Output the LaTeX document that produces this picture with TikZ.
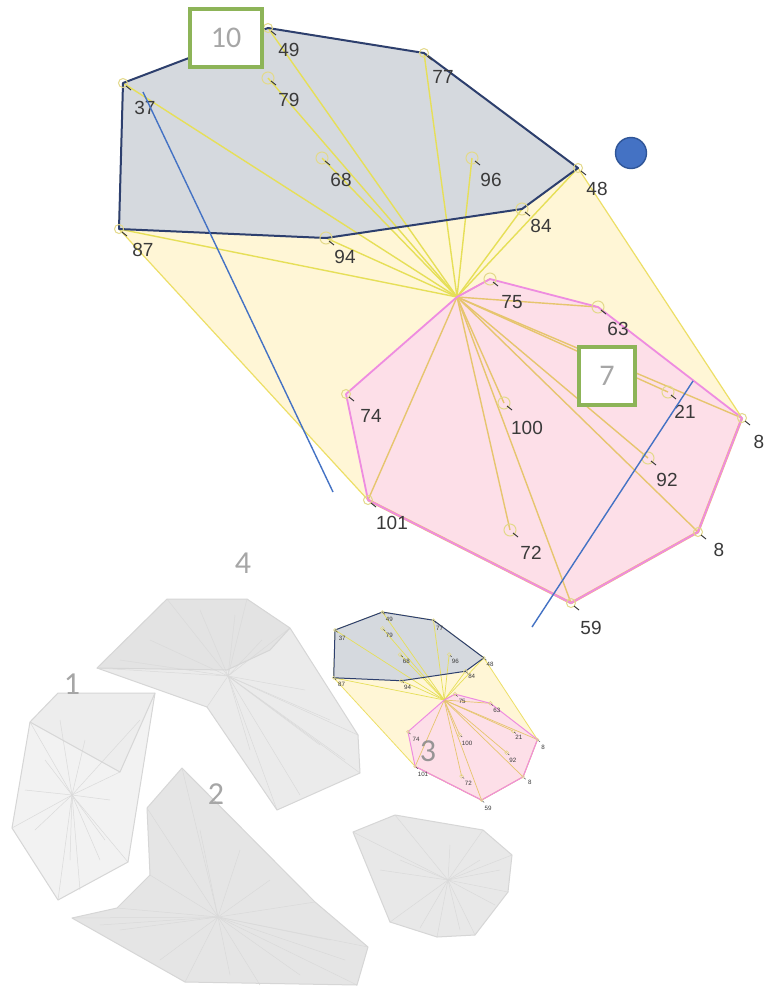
\documentclass[tikz,border=0pt]{standalone}
\usepackage{fontspec}
\setmainfont{Liberation Sans}
\newfontfamily\calfont{Carlito}
\definecolor{yfillc}{HTML}{FFF6D6}
\definecolor{yedgec}{HTML}{EDDF66}
\definecolor{gfillc}{HTML}{D5D9DE}
\definecolor{gedgec}{HTML}{2D3F6E}
\definecolor{pfillc}{HTML}{FDDFE8}
\definecolor{pedgec}{HTML}{EE8CE0}
\definecolor{orc}{HTML}{F2BA7C}
\definecolor{spyc}{HTML}{E6DF58}
\definecolor{sptc}{HTML}{E6C56E}
\definecolor{mkc}{HTML}{E3D98A}
\definecolor{labc}{HTML}{3A3A3A}
\definecolor{greenc}{HTML}{8DB458}
\definecolor{numc}{HTML}{A6A6A6}
\definecolor{bluec}{HTML}{4472C4}
\definecolor{bluedk}{HTML}{2F5597}
\definecolor{fedgec}{HTML}{D6D6D6}
\definecolor{fspc}{HTML}{DADADA}
\newcommand{\drawcluster}{%
\coordinate (H) at (457,297);
\coordinate (p37) at (123,83);
\coordinate (p49) at (268,28);
\coordinate (c79) at (268,78);
\coordinate (c68) at (322,158);
\coordinate (p77) at (424,53);
\coordinate (c96) at (472,158);
\coordinate (p48) at (578,168);
\coordinate (p84) at (522,209);
\coordinate (p94) at (326,238);
\coordinate (p87) at (119,229);
\coordinate (p75) at (490,279);
\coordinate (p63) at (598,307);
\coordinate (c21) at (668,392);
\coordinate (p8r) at (742,418);
\coordinate (c92) at (648,458);
\coordinate (p8) at (698,532);
\coordinate (p59) at (571,603);
\coordinate (c72) at (510,530);
\coordinate (c100) at (504,403);
\coordinate (p101) at (368,500);
\coordinate (p74) at (346,394);
\fill[yfill] (p37)--(p49)--(p77)--(p48)--(p8r)--(p8)--(p59)--(p101)--(p87)--cycle;
\draw[yedge] (p37)--(p49)--(p77)--(p48)--(p8r)--(p8)--(p59)--(p101)--(p87)--cycle;
\fill[gfill] (p37)--(p49)--(p77)--(p48)--(p84)--(p94)--(p87)--cycle;
\fill[pfill] (p74)--(H)--(p75)--(p63)--(p8r)--(p8)--(p59)--(p101)--cycle;
\foreach \t in {p37,p87,p94,c68,c79,p49,p77,c96,p84,p48} \draw[spokeY] (H)--(\t);
\foreach \t in {p75,p63,c21,p8r,c92,p8,p59,c72,c100,p101} \draw[spokeT] (H)--(\t);
\draw[gedge] (p37)--(p49)--(p77)--(p48)--(p84)--(p94)--(p87)--cycle;
\draw[oredge] (p101)--(p59)--(p8)--(p8r);
\draw[pedge] (p74)--(H)--(p75)--(p63)--(p8r)--(p8)--(p59)--(p101)--cycle;
\foreach \t in {c79,c68,c96,p84,p94,c21,c92,c72,c100,p63,p75} \draw[ptmark] (\t) circle (6);
\foreach \t in {p37,p49,p77,p48,p87,p8r,p8,p59,p101,p74} \draw[ptmark] (\t) circle (4.5);
\foreach \t in {p37,p49,c79,c68,p77,c96,p48,p84,p94,p87,p75,p63,c21,p8r,c92,p8,p59,c72,c100,p101,p74}
  \draw[ticks] (\t) ++(3,3) -- ++(5,4);
\node[lab] (l37) at (145,108) {37};
\node[lab] (l49) at (289,50) {49};
\node[lab] (l79) at (289,100) {79};
\node[lab] (l68) at (341,180) {68};
\node[lab] (l77) at (443,77) {77};
\node[lab] (l96) at (491,180) {96};
\node[lab] (l48) at (597,189) {48};
\node[lab] (l84) at (541,226) {84};
\node[lab] (l94) at (345,257) {94};
\node[lab] (l87) at (143,250) {87};
\node[lab] (l75) at (512,302) {75};
\node[lab] (l63) at (618,329) {63};
\node[lab] (l21) at (685,412) {21};
\node[lab] (l8r) at (759,442) {8};
\node[lab] (l92) at (667,480) {92};
\node[lab] (l8) at (719,550) {8};
\node[lab] (l59) at (591,628) {59};
\node[lab] (l72) at (531,553) {72};
\node[lab] (l100) at (527,428) {100};
\node[lab] (l74) at (371,416) {74};
\node[lab] (l101) at (392,523) {101};
}
\begin{document}
\begin{tikzpicture}[x=1pt,y=-1pt,
  yfill/.style={fill=yfillc},
  yedge/.style={draw=yedgec,line width=1.2pt,line join=round},
  gfill/.style={fill=gfillc},
  gedge/.style={draw=gedgec,line width=2pt,line join=round},
  pfill/.style={fill=pfillc},
  pedge/.style={draw=pedgec,line width=1.8pt,line join=round},
  oredge/.style={draw=orc,line width=2.6pt,line join=round},
  spokeY/.style={draw=spyc,line width=1.4pt},
  spokeT/.style={draw=sptc,line width=1.4pt},
  ptmark/.style={draw=mkc,line width=1pt},
  ticks/.style={draw=labc,line width=1pt},
  lab/.style={text=labc,inner sep=0pt,font=\fontsize{19}{19}\selectfont},
  gbox/.style={draw=greenc,line width=4.5pt,fill=white,text=numc,font=\calfont\fontsize{30}{30}\selectfont,inner sep=0pt},
  gnum/.style={text=numc,font=\calfont\fontsize{32}{32}\selectfont,inner sep=0pt},
  bline/.style={draw=bluec,line width=1.4pt},
  fedge/.style={draw=fedgec,line width=1pt,line join=round},
  fspoke/.style={draw=fspc,line width=0.5pt}]
\useasboundingbox (0,0) rectangle (766,994);
\fill[white] (0,0) rectangle (766,994);
% ---------- faint gray shapes ----------
% shape 4
\coordinate (h4) at (228,676);
\fill[fill=black!8] (167,599)--(247,599)--(290,628)--(358,735)--(360,773)--(277,810)--(207,707)--(97,668)--cycle;
\fill[fill=black!11] (167,599)--(247,599)--(290,628)--(270,650)--(227,670)--(97,668)--cycle;
\foreach \q in {(97,668),(167,599),(247,599),(290,628),(358,735),(360,773),(277,810),(207,707),(150,640),(200,610),(235,615),(262,640),(305,690),(330,720),(345,760),(300,795),(250,750),(120,660),(320,745)}
  \draw[fspoke] (h4)--\q;
\draw[fedge] (167,599)--(247,599)--(290,628)--(358,735)--(360,773)--(277,810)--(207,707)--(97,668)--cycle;
\draw[fedge] (290,628)--(270,650)--(227,670)--(97,668);
% shape 1
\coordinate (h1) at (72,795);
\fill[fill=black!5] (58,693)--(155,693)--(128,862)--(58,900)--(12,828)--(30,722)--cycle;
\fill[fill=black!7] (30,722)--(58,693)--(155,693)--(120,772)--cycle;
\foreach \q in {(30,722),(12,828),(58,900),(128,862),(120,772),(45,760),(25,790),(35,830),(70,860),(80,890),(105,840),(110,800),(85,740),(60,720),(140,720),(100,860)}
  \draw[fspoke] (h1)--\q;
\draw[fedge] (58,693)--(155,693)--(128,862)--(58,900)--(12,828)--(30,722)--cycle;
\draw[fedge] (30,722)--(120,772)--(155,693);
% shape 2
\coordinate (h2) at (218,917);
\fill[fill=black!10] (182,768)--(147,808)--(150,875)--(117,908)--(72,918)--(185,982)--(357,985)--(368,947)--(315,902)--cycle;
\foreach \q in {(182,768),(147,808),(150,875),(117,908),(72,918),(185,982),(357,985),(368,947),(315,902),(200,830),(240,850),(270,880),(120,930),(160,960),(330,940),(300,975),(260,985),(345,960),(230,975),(100,925)}
  \draw[fspoke] (h2)--\q;
\draw[fedge] (182,768)--(147,808)--(150,875)--(117,908)--(72,918)--(185,982)--(357,985)--(368,947)--(315,902)--cycle;
% shape 5
\coordinate (h5) at (448,880);
\fill[fill=black!9] (353,832)--(395,815)--(483,830)--(512,855)--(508,892)--(475,935)--(437,937)--(390,922)--cycle;
\foreach \q in {(353,832),(395,815),(483,830),(512,855),(508,892),(475,935),(437,937),(390,922),(400,860),(480,860),(500,870),(495,905),(460,930),(420,928),(380,870),(450,845)}
  \draw[fspoke] (h5)--\q;
\draw[fedge] (353,832)--(395,815)--(483,830)--(512,855)--(508,892)--(475,935)--(437,937)--(390,922)--cycle;
% ---------- small copy ----------
\begin{scope}[shift={(294.8,602.9)},scale=0.327,transform shape,name prefix=s-,
  yedge/.append style={line width=0.8pt},
  gedge/.append style={line width=1pt},
  pedge/.append style={line width=1pt},
  oredge/.append style={line width=1pt},
  spokeY/.append style={line width=0.7pt},
  spokeT/.append style={line width=0.7pt},
  ptmark/.append style={line width=0.5pt},
  ticks/.append style={line width=0.4pt}]
\drawcluster
\end{scope}
% ---------- big cluster ----------
\drawcluster
% ---------- overlays ----------
\coordinate (bl1a) at (143,92);
\coordinate (bl1b) at (333,492);
\coordinate (bl2a) at (693,381);
\coordinate (bl2b) at (532,627);
\draw[bline] (bl1a)--(bl1b);
\draw[bline] (bl2a)--(bl2b);
\node[circle,fill=bluec,draw=bluedk,line width=1.4pt,minimum size=31pt,inner sep=0pt] (bdot) at (631,153) {};
\node[gbox,minimum width=72pt,minimum height=58pt] (b10) at (226,38) {10};
\node[gbox,minimum width=56pt,minimum height=58pt] (b7) at (607,376) {7};
\node[gnum] (n4) at (243,563) {4};
\node[gnum] (n1) at (72,684) {1};
\node[gnum] (n2) at (216,794) {2};
\node[gnum,text=black!45,opacity=0.9] (n3) at (428,751) {3};
\end{tikzpicture}
\end{document}
